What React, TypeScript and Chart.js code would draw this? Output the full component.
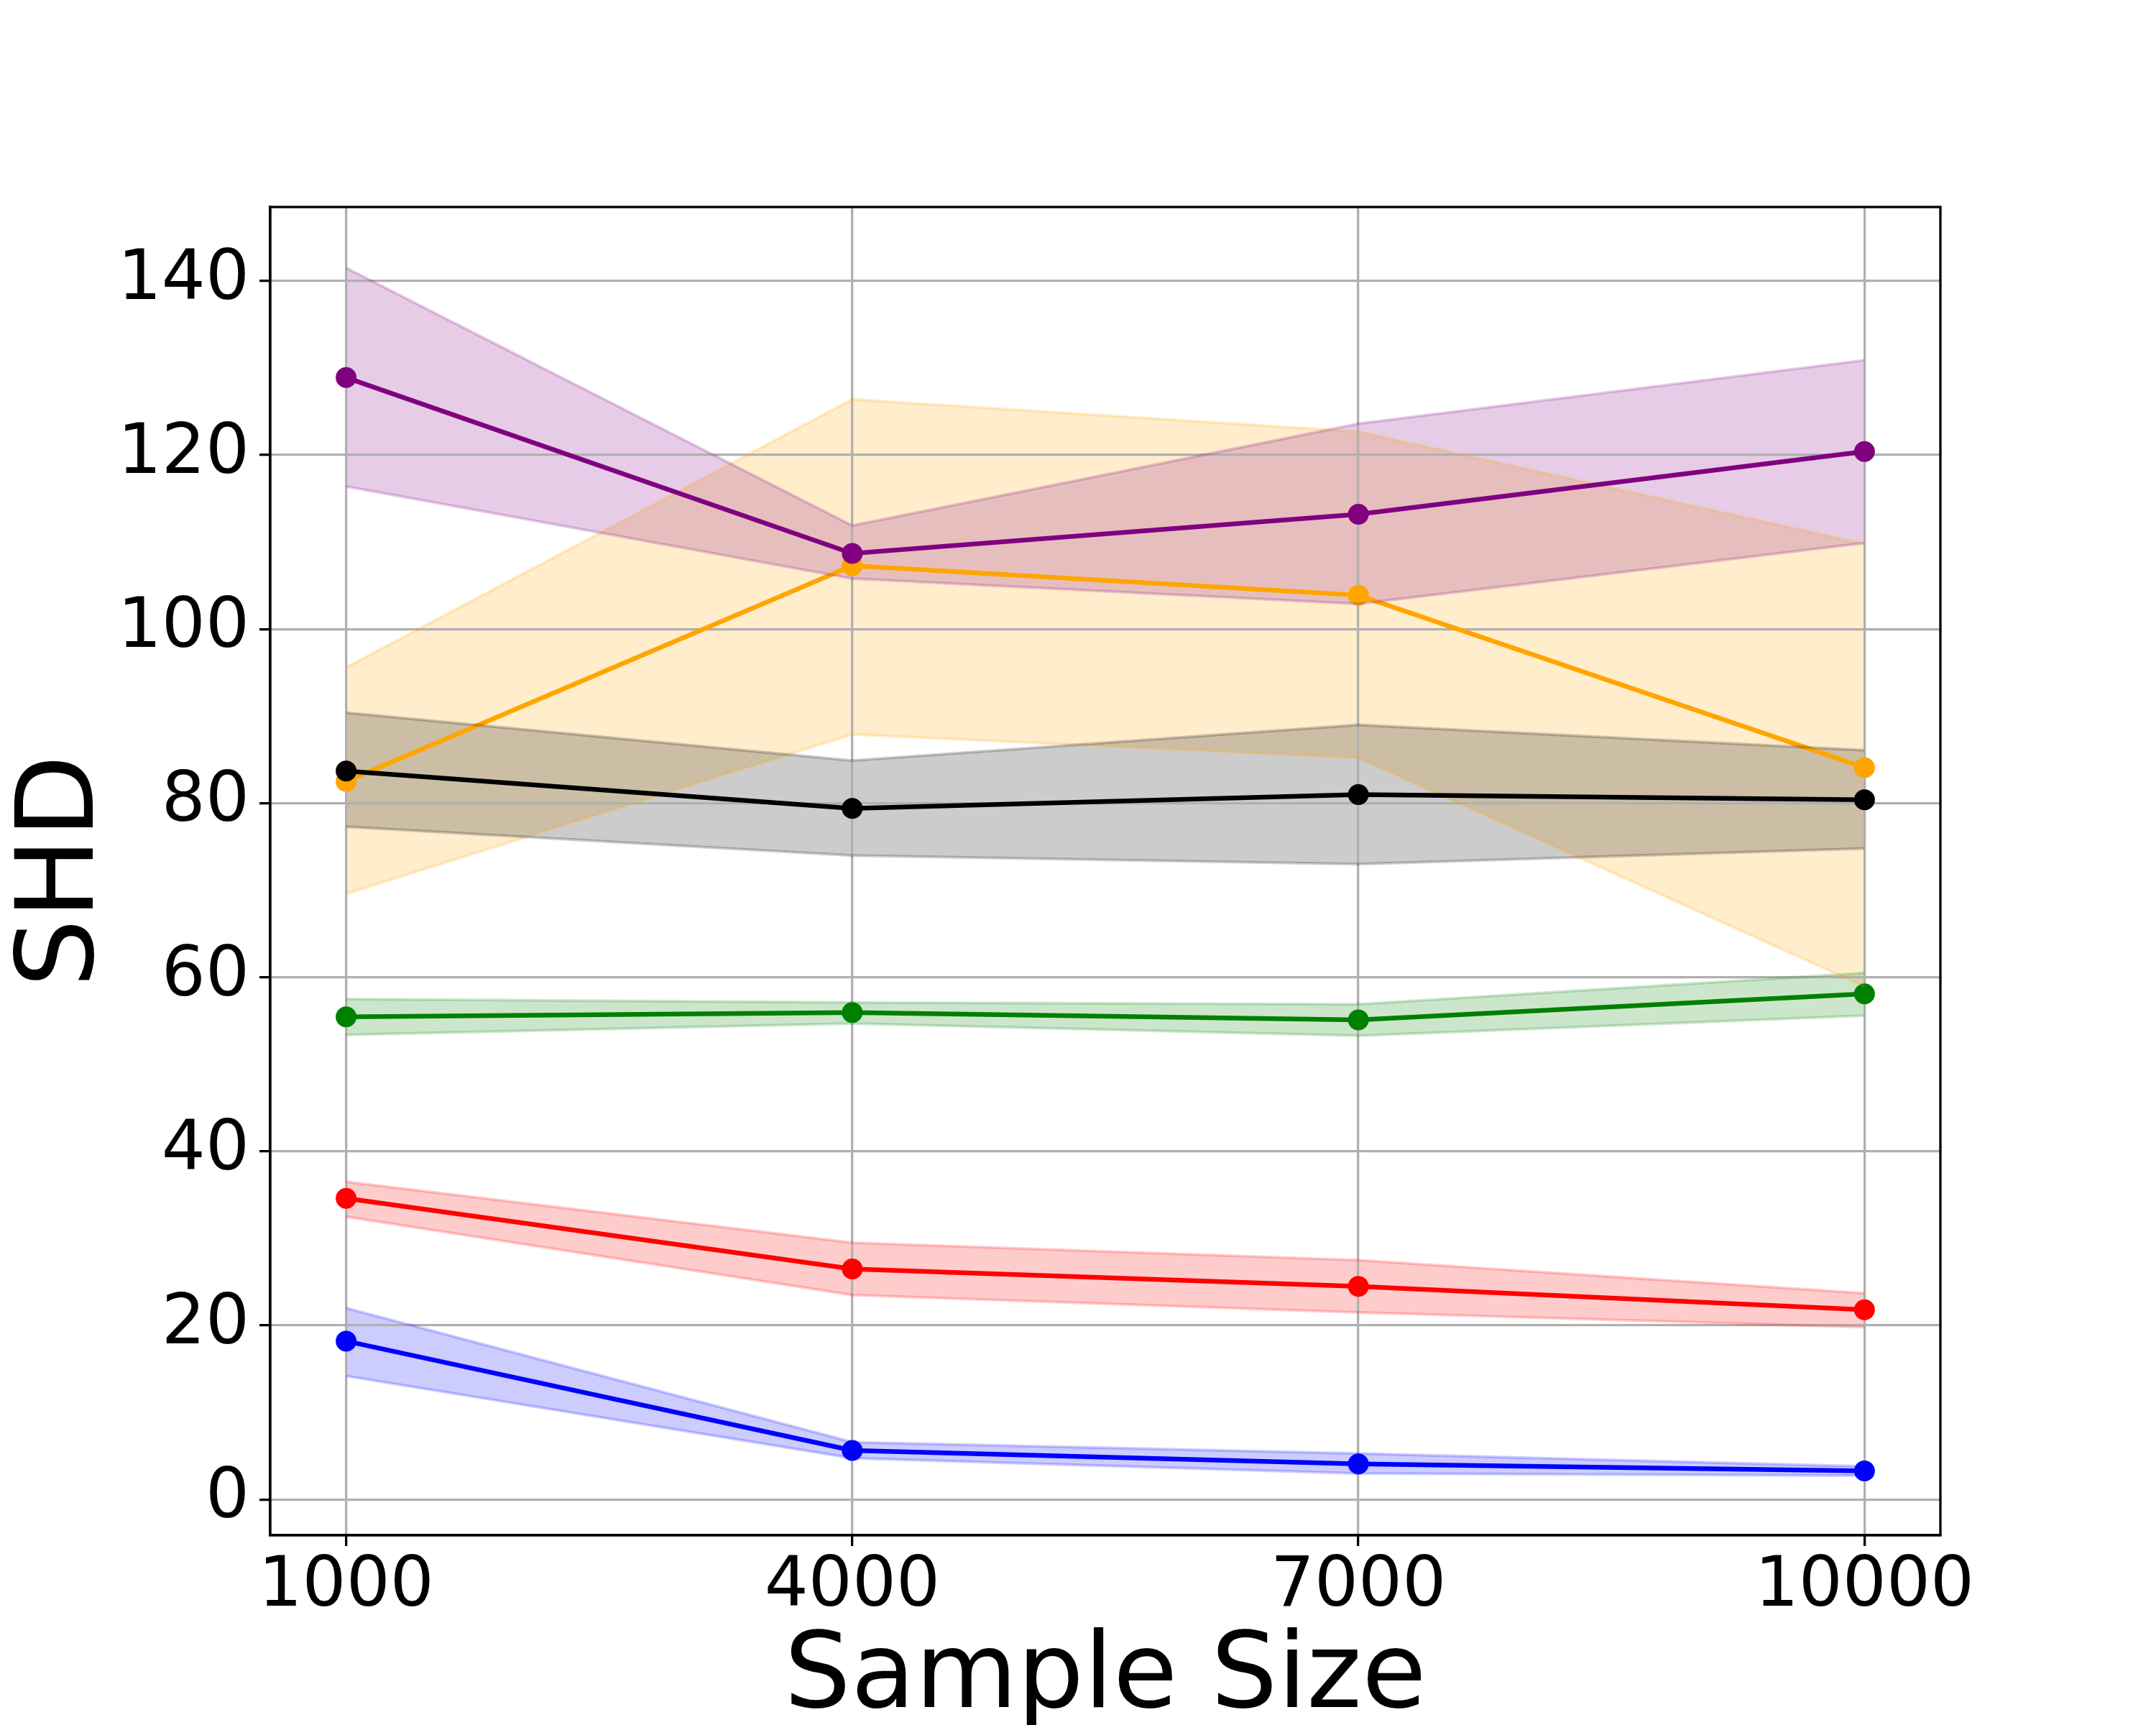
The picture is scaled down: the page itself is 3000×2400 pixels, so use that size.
import React, { useEffect, useRef } from "react";
import { Chart, registerables } from "chart.js";

Chart.register(...registerables);

// ---- data ----
const sampleSizes = [1000, 4000, 7000, 10000];
const xTickValues = [1000, 4000, 7000, 10000];
const yTickValues = [0, 20, 40, 60, 80, 100, 120, 140];

const purpleMean = [128.9, 108.7, 113.2, 120.4];
const purpleLower = [116.4, 105.8, 102.9, 109.9];
const purpleUpper = [141.5, 111.9, 123.6, 130.9];

const blackMean = [83.7, 79.4, 81.0, 80.4];
const blackLower = [77.3, 74.0, 73.0, 74.8];
const blackUpper = [90.4, 84.9, 89.0, 86.1];

const orangeMean = [82.5, 107.3, 103.9, 84.1];
const orangeLower = [69.6, 87.9, 85.2, 58.95];
const orangeUpper = [95.6, 126.4, 122.7, 109.8];

const greenMean = [55.45, 55.95, 55.1, 58.1];
const greenLower = [53.4, 54.7, 53.3, 55.6];
const greenUpper = [57.5, 57.1, 56.9, 60.5];

const redMean = [34.6, 26.5, 24.5, 21.8];
const redLower = [32.5, 23.5, 21.5, 19.8];
const redUpper = [36.5, 29.5, 27.5, 23.7];

const blueMean = [18.2, 5.65, 4.1, 3.3];
const blueLower = [14.2, 4.75, 3.0, 2.75];
const blueUpper = [22.0, 6.6, 5.3, 3.8];

const xLabel = "Sample Size";
const yLabel = "SHD";

// top-most series first (Chart.js draws the first dataset on top)
const seriesList = [
  { rgb: "128,0,128", mean: purpleMean, lower: purpleLower, upper: purpleUpper },
  { rgb: "0,0,0", mean: blackMean, lower: blackLower, upper: blackUpper },
  { rgb: "255,165,0", mean: orangeMean, lower: orangeLower, upper: orangeUpper },
  { rgb: "0,128,0", mean: greenMean, lower: greenLower, upper: greenUpper },
  { rgb: "255,0,0", mean: redMean, lower: redLower, upper: redUpper },
  { rgb: "0,0,255", mean: blueMean, lower: blueLower, upper: blueUpper },
];

const toPoints = (ys: number[]) => sampleSizes.map((x, i) => ({ x, y: ys[i] }));

const framePlugin = {
  id: "frame",
  afterDraw(chart: any) {
    const { ctx, chartArea } = chart;
    const { left, top, right, bottom } = chartArea;
    ctx.save();
    ctx.strokeStyle = "#000";
    ctx.lineWidth = 3.3;
    ctx.strokeRect(left, top, right - left, bottom - top);
    ctx.restore();
  },
};

export default function App() {
  const ref = useRef<HTMLCanvasElement | null>(null);

  useEffect(() => {
    document.body.style.margin = "0";
    const canvas = ref.current;
    if (!canvas) return;

    const datasets: any[] = [];
    seriesList.forEach((s) => {
      datasets.push({
        data: toPoints(s.mean),
        borderColor: `rgb(${s.rgb})`,
        backgroundColor: `rgb(${s.rgb})`,
        borderWidth: 6.5,
        pointRadius: 14.5,
        pointBorderWidth: 0,
        pointBackgroundColor: `rgb(${s.rgb})`,
        fill: false,
        tension: 0,
      });
      datasets.push({
        data: toPoints(s.upper),
        borderColor: `rgba(${s.rgb},0.2)`,
        backgroundColor: `rgba(${s.rgb},0.2)`,
        borderWidth: 4,
        pointRadius: 0,
        fill: false,
        tension: 0,
      });
      datasets.push({
        data: toPoints(s.lower),
        borderColor: `rgba(${s.rgb},0.2)`,
        backgroundColor: `rgba(${s.rgb},0.2)`,
        borderWidth: 4,
        pointRadius: 0,
        fill: "-1",
        tension: 0,
      });
    });

    const tickFont = { family: "DejaVu Sans", size: 96 };

    const chart = new Chart(canvas, {
      type: "line",
      data: { datasets },
      plugins: [framePlugin],
      options: {
        animation: false,
        responsive: false,
        maintainAspectRatio: false,
        devicePixelRatio: 1,
        events: [],
        layout: { padding: { top: 288, right: 300, bottom: 0, left: 0 } },
        plugins: {
          legend: { display: false },
          tooltip: { enabled: false },
          filler: { drawTime: "beforeDraw", propagate: false },
        },
        scales: {
          x: {
            type: "linear",
            min: 550,
            max: 10450,
            afterBuildTicks: (scale: any) => {
              scale.ticks = xTickValues.map((v) => ({ value: v }));
            },
            afterFit: (scale: any) => {
              scale.height = 264;
            },
            ticks: {
              font: tickFont,
              color: "#000",
              padding: 0,
              maxRotation: 0,
              minRotation: 0,
              autoSkip: false,
              callback: (v: any) => String(v),
            },
            grid: {
              color: "#b0b0b0",
              lineWidth: 3.3,
              tickColor: "#000",
              tickLength: 15,
              tickWidth: 3.3,
            },
            border: { display: true, color: "#000", width: 3.3 },
            title: {
              display: true,
              text: xLabel,
              color: "#000",
              font: { family: "DejaVu Sans", size: 146, lineHeight: 1 },
              padding: { top: 0, bottom: -10 },
            },
          },
          y: {
            type: "linear",
            min: -4.1,
            max: 148.5,
            afterBuildTicks: (scale: any) => {
              scale.ticks = yTickValues.map((v) => ({ value: v }));
            },
            afterFit: (scale: any) => {
              scale.width = 376;
            },
            ticks: {
              font: tickFont,
              color: "#000",
              padding: 14,
              autoSkip: false,
              callback: (v: any) => String(v),
            },
            grid: {
              color: "#b0b0b0",
              lineWidth: 3.3,
              tickColor: "#000",
              tickLength: 15,
              tickWidth: 3.3,
            },
            border: { display: true, color: "#000", width: 3.3 },
            title: {
              display: true,
              text: yLabel,
              color: "#000",
              font: { family: "DejaVu Sans", size: 150, lineHeight: 1 },
              padding: { top: 15, bottom: 0 },
            },
          },
        },
      } as any,
    });

    return () => chart.destroy();
  }, []);

  return (
    <div style={{ position: "absolute", left: 0, top: 0, width: 3000, height: 2400, background: "#fff" }}>
      <canvas ref={ref} width={3000} height={2400} style={{ display: "block", width: 3000, height: 2400 }} />
    </div>
  );
}
